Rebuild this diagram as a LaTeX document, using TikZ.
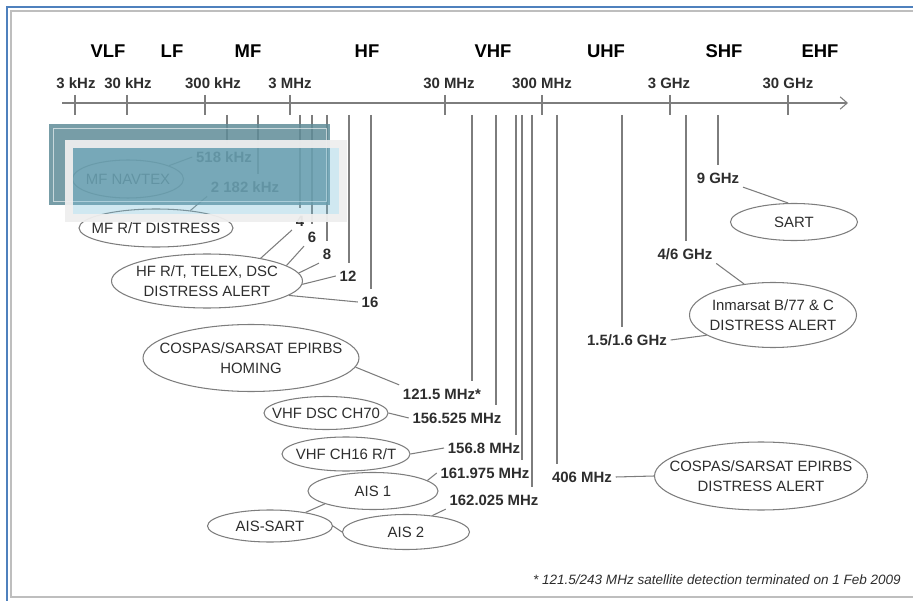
\documentclass[tikz,border=0pt]{standalone}
\usepackage{fontspec}
\setmainfont{Liberation Sans}
\definecolor{frameblue}{RGB}{79,129,189}
\definecolor{framegray}{RGB}{190,190,190}
\definecolor{wiregray}{RGB}{125,125,125}
\definecolor{inkgray}{RGB}{45,45,45}
\definecolor{boxteal}{RGB}{95,140,152}
\definecolor{boxsky}{RGB}{120,190,215}
\definecolor{boxrim}{RGB}{238,238,238}
\usetikzlibrary{arrows.meta, shapes.geometric}

\begin{document}
\begin{tikzpicture}[x=0.02cm, y=-0.02cm,
  every node/.style={font=\fontsize{8.5}{11.3}\selectfont, text=inkgray},
  band/.style={font=\fontsize{10.5}{12}\selectfont\bfseries, text=black},
  freq/.style={font=\fontsize{8.5}{10}\selectfont\bfseries, inner sep=2pt},
  service/.style 2 args={ellipse, draw=wiregray, line width=0.6pt, inner sep=0pt,
      minimum width=#1*0.02cm, minimum height=#2*0.02cm},
  svctext/.style={align=center, inner sep=0pt},
  wire/.style={wiregray, line width=0.6pt}]
\useasboundingbox (0,0) rectangle (913,601);
\draw[frameblue, line width=1.3pt] (7,601) -- (7,7) -- (913,7);
\draw[framegray, line width=1pt] (913,11) -- (11,11) -- (11,597) -- (913,597);

\foreach \bx/\bl in {108/VLF, 172/LF, 248/MF, 367/HF, 493/VHF, 606/UHF, 724/SHF, 820/EHF}
  \node[band] (band-\bl) at (\bx,51) {\bl};

\coordinate (axis-start) at (62,103);
\coordinate (axis-end) at (848,103);
\draw[wire, -{Straight Barb[length=4pt, width=7pt]}] (axis-start) -- (axis-end);
\foreach \tx/\lx/\tl in {75/76/3 kHz, 127/128/30 kHz, 205/213/300 kHz, 290/290/3 MHz,
    445/449/30 MHz, 542/542/300 MHz, 670/669/3 GHz, 788/788/30 GHz} {
  \node[freq] (tick-\tx) at (\lx,83) {\tl};
  \draw[wire] (\tx,95) -- (\tx,115);
}

\node[freq] (k518) at (224,157) {518 kHz};
\node[freq] (k2182) at (245,187) {2 182 kHz};
\node[freq] (m4) at (300,221) {4};
\node[freq] (m6) at (312,237) {6};
\node[freq] (m8) at (327,254) {8};
\node[freq] (m12) at (348,276) {12};
\node[freq] (m16) at (370,302) {16};
\node[freq] (f1215) at (442,394) {121.5 MHz*};
\node[freq] (f156525) at (457,418) {156.525 MHz};
\node[freq] (f1568) at (484,448) {156.8 MHz};
\node[freq] (f161975) at (485,473) {161.975 MHz};
\node[freq] (f162025) at (494,500) {162.025 MHz};
\node[freq] (f406) at (582,477) {406 MHz};
\node[freq] (g15) at (627,340) {1.5/1.6 GHz};
\node[freq] (g46) at (685,254) {4/6 GHz};
\node[freq] (g9) at (718,178) {9 GHz};

\foreach \sx/\sn in {227/k518, 258/k2182, 300/m4, 312/m6, 327/m8, 349/m12, 371/m16,
    472/f1215, 496/f156525, 516/f1568, 522/f161975, 532/f162025, 557/f406,
    622/g15, 686/g46, 718/g9} {
  \coordinate (top-\sn) at (\sx,115);
  \draw[wire, shorten >=2pt] (top-\sn) -- (top-\sn |- \sn.north);
}

\node[service={111}{38}, label={[svctext]center:MF NAVTEX}] (navtex) at (128,179) {};
\node[service={154}{38}, label={[svctext]center:MF R/T DISTRESS}] (mfrt) at (156,228) {};
\node[service={191}{54}, label={[svctext]center:HF R/T, TELEX, DSC\\DISTRESS ALERT}]
  (hfrt) at (207,281) {};
\node[service={216}{67}, label={[svctext]center:COSPAS/SARSAT EPIRBS\\HOMING}]
  (homing) at (251,358) {};
\node[service={124}{33}, label={[svctext]center:VHF DSC CH70}] (dsc70) at (326,413) {};
\node[service={128}{34}, label={[svctext]center:VHF CH16 R/T}] (ch16) at (346,454) {};
\node[service={130}{37}, label={[svctext]center:AIS 1}] (ais1) at (373,491) {};
\node[service={125}{32}, label={[svctext]center:AIS-SART}] (aissart) at (270,526) {};
\node[service={127}{35}, label={[svctext]center:AIS 2}] (ais2) at (406,532) {};
\node[service={213}{68}, label={[svctext]center:COSPAS/SARSAT EPIRBS\\DISTRESS ALERT}]
  (cosalert) at (761,476) {};
\node[service={127}{37}, label={[svctext]center:SART}] (sart) at (794,222) {};
\node[service={167}{65}, label={[svctext]center:Inmarsat B/77 \& C\\DISTRESS ALERT}]
  (inmc) at (773,315) {};

\draw[wire] (navtex.18) -- (k518.west);
\draw[wire] (mfrt.27) -- (k2182.south west);
\draw[wire] (hfrt.23) -- (m4.south west);
\draw[wire] (hfrt.11) -- (m6.south west);
\draw[wire] (hfrt.5) -- (m8.south west);
\draw[wire] (hfrt.-2) -- (m12.west);
\draw[wire] (hfrt.-10) -- (m16.west);
\draw[wire] (homing.-5) -- (f1215.north west);
\draw[wire] (dsc70.east) -- (f156525.west);
\draw[wire] (ch16.east) -- (f1568.west);
\draw[wire] (ais1.11) -- (f161975.west);
\draw[wire] (ais2.32) -- (f162025.south west);
\draw[wire] (aissart.21) -- (ais1.195);
\draw[wire] (aissart.east) -- (ais2.west);
\draw[wire] (f406.east) -- (cosalert.west);
\draw[wire] (g15.east) -- (inmc.197);
\draw[wire] (g46.south east) -- (inmc.133);
\draw[wire] (g9.south east) -- (sart.107);

\node[font=\fontsize{7.7}{9}\selectfont\itshape, anchor=east] (footnote) at (907,580)
  {* 121.5/243 MHz satellite detection terminated on 1 Feb 2009};

\fill[boxteal, fill opacity=0.85] (49,124) rectangle (330,205);
\draw[white, opacity=0.6, line width=0.4pt] (53,128) rectangle (326,201);
\draw[boxrim, opacity=0.95, line width=4.4pt] (69,144) rectangle (343,218);
\fill[boxsky, fill opacity=0.35] (73,148) rectangle (339,214);
\end{tikzpicture}
\end{document}
